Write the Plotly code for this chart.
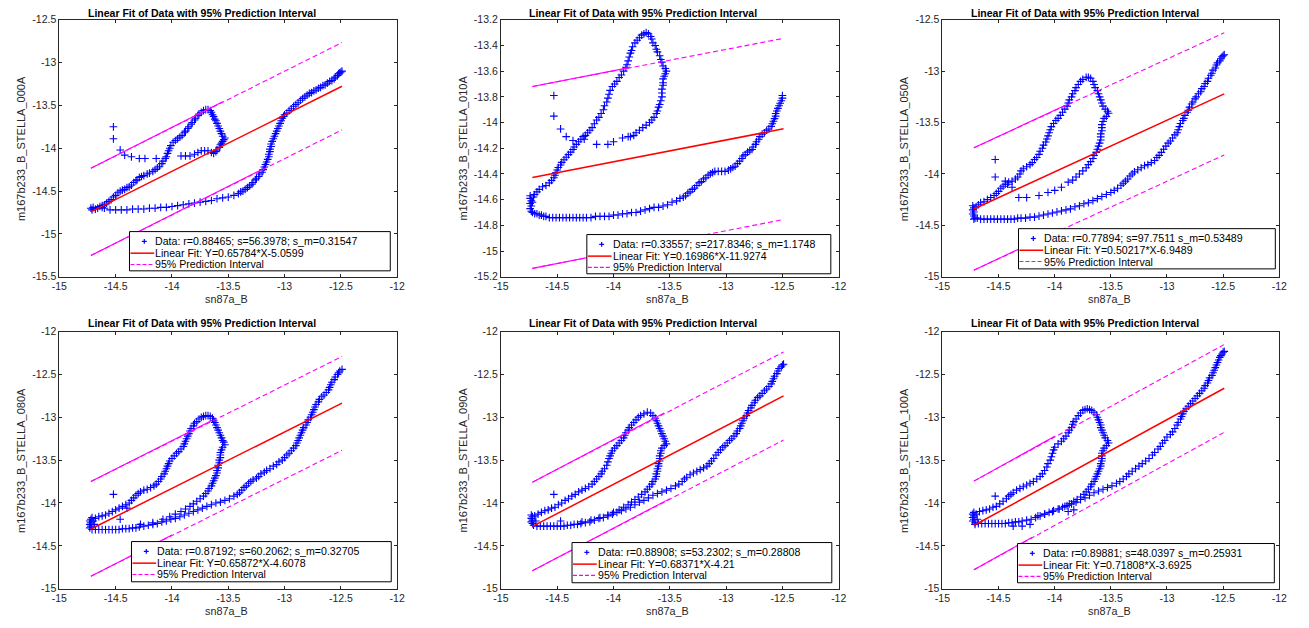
import plotly.graph_objects as go

FIG_W, FIG_H = 1309, 628
FONT = "Liberation Sans, Arial, Helvetica, sans-serif"

# ---------------- tick labels ----------------
x_tick_vals = [-15, -14.5, -14, -13.5, -13, -12.5, -12]
x_tick_text = ["-15", "-14.5", "-14", "-13.5", "-13", "-12.5", "-12"]
y_vals_000 = [-15.5, -15, -14.5, -14, -13.5, -13, -12.5]
y_text_000 = ["-15.5", "-15", "-14.5", "-14", "-13.5", "-13", "-12.5"]
y_vals_010 = [-15.2, -15, -14.8, -14.6, -14.4, -14.2, -14, -13.8, -13.6, -13.4, -13.2]
y_text_010 = ["-15.2", "-15", "-14.8", "-14.6", "-14.4", "-14.2", "-14", "-13.8", "-13.6", "-13.4", "-13.2"]
y_vals_050 = [-15, -14.5, -14, -13.5, -13, -12.5]
y_text_050 = ["-15", "-14.5", "-14", "-13.5", "-13", "-12.5"]
y_vals_080 = [-15, -14.5, -14, -13.5, -13, -12.5, -12]
y_text_080 = ["-15", "-14.5", "-14", "-13.5", "-13", "-12.5", "-12"]

# ---------------- data points (sn87a_B, m167b233_B_STELLA_xxxA) ----------------
pts_000 = [(-14.72,-14.70),(-14.71,-14.72),(-14.70,-14.69),(-14.68,-14.71),(-14.66,-14.70),(-14.64,-14.68),(-14.62,-14.69),(-14.60,-14.70),
    (-14.55,-14.72),(-14.50,-14.72),(-14.45,-14.72),(-14.40,-14.72),(-14.35,-14.71),(-14.30,-14.71),(-14.25,-14.71),(-14.20,-14.70),
    (-14.15,-14.70),(-14.10,-14.69),(-14.05,-14.69),(-14.00,-14.68),(-13.95,-14.67),(-13.90,-14.66),(-13.85,-14.65),(-13.80,-14.64),
    (-13.75,-14.63),(-13.70,-14.62),(-13.65,-14.61),(-13.60,-14.59),(-13.55,-14.58),(-13.50,-14.57),(-13.45,-14.55),
    (-13.41,-14.53),(-13.39,-14.51),(-13.37,-14.50),(-13.35,-14.48),(-13.33,-14.46),(-13.31,-14.44),(-13.29,-14.42),(-13.28,-14.40),
    (-13.26,-14.37),(-13.25,-14.35),(-13.23,-14.33),(-13.22,-14.30),(-13.20,-14.28),(-13.19,-14.25),(-13.18,-14.22),(-13.17,-14.19),
    (-13.16,-14.16),(-13.15,-14.13),(-13.14,-14.10),(-13.14,-14.07),(-13.13,-14.04),(-13.13,-14.01),(-13.12,-13.98),(-13.12,-13.95),
    (-13.11,-13.92),(-13.10,-13.89),(-13.09,-13.86),(-13.08,-13.83),(-13.07,-13.80),(-13.06,-13.77),(-13.05,-13.74),(-13.04,-13.71),
    (-13.03,-13.68),(-13.02,-13.65),(-13.01,-13.63),(-13.00,-13.61),(-12.98,-13.59),(-12.96,-13.56),(-12.94,-13.54),(-12.92,-13.51),
    (-12.90,-13.49),(-12.88,-13.47),(-12.86,-13.44),(-12.84,-13.42),(-12.82,-13.40),(-12.80,-13.38),(-12.78,-13.36),(-12.76,-13.35),
    (-12.74,-13.33),(-12.72,-13.32),(-12.70,-13.30),(-12.68,-13.29),(-12.66,-13.27),(-12.64,-13.26),(-12.62,-13.24),(-12.60,-13.22),
    (-12.58,-13.21),(-12.56,-13.19),(-12.55,-13.17),(-12.53,-13.15),(-12.52,-13.13),(-12.51,-13.12),(-12.50,-13.11),(-12.49,-13.10),
    (-14.62,-14.67),(-14.60,-14.66),(-14.58,-14.64),(-14.56,-14.62),(-14.54,-14.60),(-14.52,-14.57),(-14.50,-14.55),(-14.48,-14.52),
    (-14.46,-14.50),(-14.44,-14.49),(-14.42,-14.48),(-14.40,-14.46),(-14.38,-14.45),(-14.36,-14.43),(-14.34,-14.40),(-14.32,-14.38),
    (-14.31,-14.37),(-14.29,-14.34),(-14.27,-14.33),(-14.25,-14.32),(-14.22,-14.30),(-14.20,-14.29),(-14.17,-14.27),(-14.15,-14.25),
    (-14.13,-14.23),(-14.11,-14.21),(-14.09,-14.18),(-14.08,-14.15),(-14.06,-14.12),(-14.05,-14.10),(-14.04,-14.06),(-14.03,-14.03),
    (-14.02,-14.00),(-14.01,-13.97),(-13.99,-13.93),(-13.97,-13.91),(-13.95,-13.89),(-13.93,-13.87),(-13.91,-13.85),(-13.89,-13.82),
    (-13.88,-13.80),(-13.86,-13.77),(-13.85,-13.75),(-13.83,-13.72),(-13.82,-13.70),(-13.80,-13.67),(-13.79,-13.65),(-13.77,-13.62),
    (-13.76,-13.60),(-13.74,-13.58),(-13.72,-13.56),(-13.70,-13.55),(-13.68,-13.55),(-13.66,-13.56),(-13.65,-13.58),(-13.64,-13.61),
    (-13.63,-13.63),(-13.62,-13.66),(-13.61,-13.68),(-13.60,-13.71),(-13.59,-13.74),(-13.58,-13.77),(-13.57,-13.80),(-13.56,-13.83),
    (-13.55,-13.86),(-13.53,-13.88),(-13.54,-13.90),(-13.55,-13.92),(-13.56,-13.94),(-13.57,-13.96),(-13.58,-13.99),(-13.60,-14.02),
    (-13.61,-14.04),(-13.63,-14.06),(-13.65,-14.05),(-13.68,-14.03),(-13.71,-14.03),(-13.74,-14.03),(-13.77,-14.05),(-13.80,-14.07),
    (-13.84,-14.09),(-13.88,-14.09),(-13.92,-14.09),(-14.14,-14.12),(-14.24,-14.12),(-14.29,-14.12),(-14.36,-14.10),(-14.42,-14.08),
    (-14.46,-14.02),(-14.52,-13.89),(-14.52,-13.75)]

pts_010 = [(-14.74,-14.57),(-14.74,-14.59),(-14.73,-14.61),(-14.74,-14.63),(-14.73,-14.65),(-14.74,-14.67),(-14.73,-14.69),(-14.72,-14.70),
    (-14.72,-14.62),(-14.71,-14.58),
    (-14.70,-14.71),(-14.68,-14.71),(-14.66,-14.72),(-14.64,-14.72),(-14.62,-14.73),(-14.60,-14.73),(-14.57,-14.74),(-14.54,-14.74),
    (-14.51,-14.74),(-14.48,-14.74),(-14.45,-14.74),(-14.42,-14.74),(-14.39,-14.74),(-14.36,-14.74),(-14.33,-14.74),(-14.30,-14.74),
    (-14.27,-14.74),(-14.24,-14.74),(-14.20,-14.74),(-14.16,-14.73),(-14.12,-14.73),(-14.08,-14.73),(-14.04,-14.73),(-14.00,-14.72),
    (-13.96,-14.72),(-13.92,-14.71),(-13.88,-14.71),(-13.84,-14.70),(-13.80,-14.70),(-13.76,-14.69),(-13.72,-14.68),(-13.68,-14.67),
    (-13.64,-14.66),(-13.60,-14.66),(-13.56,-14.65),(-13.52,-14.64),(-13.48,-14.62),(-13.44,-14.61),(-13.41,-14.59),(-13.38,-14.58),
    (-13.36,-14.57),(-13.34,-14.55),(-13.32,-14.54),(-13.30,-14.52),(-13.28,-14.51),(-13.26,-14.49),(-13.24,-14.47),(-13.22,-14.46),
    (-13.20,-14.44),(-13.18,-14.43),(-13.16,-14.41),(-13.14,-14.40),(-13.12,-14.39),(-13.10,-14.38),(-13.07,-14.38),(-13.04,-14.38),
    (-13.01,-14.38),(-12.98,-14.37),(-12.96,-14.36),(-12.94,-14.35),(-12.92,-14.34),(-12.90,-14.32),(-12.88,-14.30),(-12.86,-14.28),
    (-12.85,-14.26),(-12.83,-14.25),(-12.81,-14.23),(-12.79,-14.22),(-12.77,-14.21),(-12.76,-14.19),(-12.74,-14.17),(-12.73,-14.15),
    (-12.71,-14.13),(-12.70,-14.11),(-12.68,-14.09),(-12.66,-14.08),(-12.64,-14.06),(-12.62,-14.05),(-12.60,-14.03),(-12.59,-14.01),
    (-12.58,-13.99),(-12.57,-13.97),(-12.56,-13.95),(-12.56,-13.93),(-12.55,-13.91),(-12.54,-13.89),(-12.53,-13.87),(-12.52,-13.85),
    (-12.51,-13.83),(-12.50,-13.81),(-12.50,-13.79),
    (-14.70,-14.56),(-14.68,-14.54),(-14.66,-14.52),(-14.63,-14.50),(-14.60,-14.49),(-14.57,-14.47),(-14.55,-14.45),(-14.53,-14.43),
    (-14.52,-14.41),(-14.51,-14.39),(-14.50,-14.37),(-14.49,-14.35),(-14.47,-14.33),(-14.46,-14.31),(-14.44,-14.29),(-14.42,-14.27),
    (-14.40,-14.25),(-14.38,-14.23),(-14.36,-14.21),(-14.35,-14.19),(-14.33,-14.17),(-14.31,-14.15),(-14.29,-14.13),(-14.27,-14.11),
    (-14.25,-14.10),(-14.23,-14.08),(-14.21,-14.06),(-14.19,-14.04),(-14.17,-14.01),(-14.15,-13.98),(-14.13,-13.96),(-14.11,-13.93),
    (-14.09,-13.90),(-14.08,-13.87),(-14.06,-13.84),(-14.05,-13.81),(-14.04,-13.78),(-14.03,-13.75),(-14.01,-13.72),(-13.99,-13.70),
    (-13.97,-13.68),(-13.95,-13.65),(-13.93,-13.63),(-13.91,-13.60),(-13.89,-13.57),(-13.88,-13.55),(-13.87,-13.52),(-13.86,-13.49),
    (-13.85,-13.46),(-13.84,-13.44),(-13.83,-13.41),(-13.81,-13.38),(-13.79,-13.36),(-13.77,-13.34),(-13.75,-13.32),(-13.73,-13.31),
    (-13.71,-13.30),(-13.69,-13.31),(-13.67,-13.33),(-13.66,-13.35),(-13.65,-13.38),(-13.63,-13.40),(-13.62,-13.43),(-13.61,-13.45),
    (-13.59,-13.48),(-13.58,-13.51),(-13.57,-13.53),(-13.56,-13.56),(-13.54,-13.58),(-13.53,-13.60),(-13.54,-13.62),(-13.55,-13.64),
    (-13.56,-13.66),(-13.56,-13.69),(-13.56,-13.71),(-13.57,-13.74),(-13.57,-13.77),(-13.57,-13.80),(-13.58,-13.83),(-13.59,-13.86),
    (-13.60,-13.88),(-13.61,-13.91),(-13.62,-13.93),(-13.64,-13.96),(-13.66,-13.98),(-13.68,-14.00),(-13.71,-14.02),(-13.74,-14.04),
    (-13.77,-14.06),(-13.80,-14.08),(-13.82,-14.10),(-13.85,-14.11),(-13.87,-14.11),(-13.92,-14.12),(-14.00,-14.15),(-14.05,-14.17),
    (-14.15,-14.17),(-14.26,-14.13),(-14.36,-14.14),(-14.42,-14.11),(-14.47,-14.05),(-14.53,-13.95),(-14.53,-13.79)]

pts_050 = [(-14.73,-14.31),(-14.72,-14.33),(-14.73,-14.35),(-14.72,-14.37),(-14.73,-14.39),(-14.72,-14.41),(-14.71,-14.43),(-14.70,-14.32),
    (-14.72,-14.44),
    (-14.69,-14.43),(-14.66,-14.44),(-14.63,-14.44),(-14.60,-14.44),(-14.57,-14.44),(-14.54,-14.44),(-14.51,-14.44),(-14.48,-14.44),
    (-14.45,-14.44),(-14.42,-14.44),(-14.39,-14.44),(-14.36,-14.44),(-14.33,-14.43),(-14.30,-14.43),(-14.26,-14.43),(-14.22,-14.42),
    (-14.18,-14.42),(-14.14,-14.41),(-14.10,-14.40),(-14.06,-14.39),(-14.02,-14.38),(-13.98,-14.37),(-13.94,-14.36),(-13.90,-14.35),
    (-13.86,-14.34),(-13.82,-14.32),(-13.78,-14.31),(-13.74,-14.29),(-13.70,-14.28),(-13.66,-14.26),(-13.62,-14.24),(-13.58,-14.22),
    (-13.54,-14.20),(-13.50,-14.18),(-13.47,-14.16),(-13.44,-14.14),(-13.41,-14.11),(-13.39,-14.09),(-13.37,-14.07),(-13.35,-14.05),
    (-13.33,-14.02),(-13.31,-14.00),(-13.29,-13.98),(-13.26,-13.96),(-13.23,-13.94),(-13.20,-13.92),(-13.17,-13.91),(-13.14,-13.89),
    (-13.11,-13.87),(-13.09,-13.84),(-13.07,-13.82),(-13.05,-13.79),(-13.03,-13.76),(-13.01,-13.73),(-12.99,-13.70),(-12.97,-13.68),
    (-12.95,-13.65),(-12.93,-13.62),(-12.91,-13.60),(-12.90,-13.57),(-12.89,-13.54),(-12.88,-13.51),(-12.86,-13.48),(-12.85,-13.46),
    (-12.84,-13.43),(-12.82,-13.40),(-12.81,-13.38),(-12.80,-13.35),(-12.78,-13.32),(-12.77,-13.30),(-12.75,-13.27),(-12.74,-13.25),
    (-12.72,-13.22),(-12.70,-13.20),(-12.69,-13.17),(-12.67,-13.15),(-12.66,-13.12),(-12.64,-13.10),(-12.63,-13.07),(-12.61,-13.04),
    (-12.60,-13.02),(-12.59,-12.99),(-12.57,-12.97),(-12.56,-12.94),(-12.55,-12.92),(-12.53,-12.90),(-12.52,-12.88),(-12.51,-12.86),
    (-12.50,-12.85),(-12.49,-12.84),
    (-14.68,-14.30),(-14.66,-14.28),(-14.63,-14.27),(-14.60,-14.25),(-14.57,-14.23),(-14.54,-14.21),(-14.52,-14.19),(-14.50,-14.17),
    (-14.48,-14.14),(-14.46,-14.12),(-14.44,-14.10),(-14.41,-14.08),(-14.38,-14.07),(-14.35,-14.05),(-14.33,-14.03),(-14.31,-14.00),
    (-14.30,-13.97),(-14.28,-13.95),(-14.25,-13.93),(-14.22,-13.91),(-14.20,-13.89),(-14.18,-13.86),(-14.16,-13.84),(-14.14,-13.81),
    (-14.13,-13.78),(-14.11,-13.75),(-14.10,-13.72),(-14.08,-13.69),(-14.07,-13.66),(-14.06,-13.63),(-14.05,-13.60),(-14.04,-13.57),
    (-14.03,-13.54),(-14.01,-13.51),(-13.99,-13.48),(-13.97,-13.46),(-13.95,-13.43),(-13.93,-13.40),(-13.91,-13.37),(-13.89,-13.34),
    (-13.88,-13.31),(-13.87,-13.28),(-13.85,-13.25),(-13.84,-13.22),(-13.82,-13.19),(-13.81,-13.16),(-13.79,-13.13),(-13.77,-13.10),
    (-13.75,-13.08),(-13.72,-13.06),(-13.70,-13.06),(-13.68,-13.07),(-13.66,-13.10),(-13.65,-13.13),(-13.64,-13.16),(-13.62,-13.19),
    (-13.61,-13.22),(-13.60,-13.25),(-13.59,-13.28),(-13.58,-13.31),(-13.57,-13.34),(-13.55,-13.37),(-13.53,-13.39),(-13.52,-13.41),
    (-13.54,-13.44),(-13.56,-13.46),(-13.57,-13.49),(-13.58,-13.52),(-13.58,-13.55),(-13.58,-13.58),(-13.59,-13.61),(-13.59,-13.64),
    (-13.59,-13.67),(-13.60,-13.70),(-13.61,-13.73),(-13.62,-13.76),(-13.63,-13.79),(-13.65,-13.82),(-13.66,-13.85),(-13.68,-13.88),
    (-13.70,-13.91),(-13.72,-13.94),(-13.75,-13.97),(-13.78,-14.00),(-13.81,-14.03),(-13.84,-14.06),(-13.88,-14.08),(-13.94,-14.13),
    (-14.00,-14.16),(-14.06,-14.18),(-14.14,-14.21),(-14.25,-14.23),(-14.32,-14.23),(-14.38,-14.13),(-14.42,-14.10),(-14.44,-14.07),
    (-14.53,-14.03),(-14.53,-13.86)]

pts_080 = [(-14.72,-14.19),(-14.73,-14.21),(-14.72,-14.23),(-14.73,-14.25),(-14.72,-14.27),(-14.73,-14.29),(-14.71,-14.31),(-14.70,-14.21),
    (-14.69,-14.25),(-14.71,-14.17),
    (-14.68,-14.31),(-14.65,-14.31),(-14.62,-14.31),(-14.59,-14.31),(-14.56,-14.31),(-14.53,-14.31),(-14.50,-14.31),(-14.47,-14.31),
    (-14.44,-14.30),(-14.41,-14.30),(-14.38,-14.30),(-14.35,-14.29),(-14.32,-14.29),(-14.29,-14.28),(-14.25,-14.27),(-14.21,-14.26),
    (-14.17,-14.25),(-14.13,-14.24),(-14.09,-14.22),(-14.05,-14.21),(-14.01,-14.19),(-13.97,-14.18),(-13.93,-14.16),(-13.89,-14.14),
    (-13.85,-14.12),(-13.81,-14.10),(-13.77,-14.08),(-13.73,-14.06),(-13.69,-14.04),(-13.65,-14.02),(-13.61,-14.00),(-13.57,-13.99),
    (-13.53,-13.97),(-13.49,-13.95),(-13.45,-13.92),(-13.42,-13.90),(-13.40,-13.88),(-13.38,-13.85),(-13.36,-13.82),(-13.34,-13.80),
    (-13.32,-13.77),(-13.30,-13.75),(-13.28,-13.73),(-13.25,-13.71),(-13.23,-13.69),(-13.21,-13.66),(-13.18,-13.64),(-13.16,-13.62),
    (-13.13,-13.60),(-13.10,-13.57),(-13.07,-13.55),(-13.05,-13.52),(-13.02,-13.50),(-13.00,-13.47),(-12.98,-13.44),(-12.96,-13.42),
    (-12.94,-13.39),(-12.92,-13.36),(-12.90,-13.33),(-12.89,-13.30),(-12.88,-13.27),(-12.87,-13.24),(-12.86,-13.21),(-12.85,-13.18),
    (-12.84,-13.15),(-12.83,-13.12),(-12.81,-13.09),(-12.80,-13.06),(-12.79,-13.03),(-12.77,-13.00),(-12.76,-12.97),(-12.75,-12.94),
    (-12.74,-12.91),(-12.73,-12.88),(-12.72,-12.85),(-12.70,-12.82),(-12.69,-12.79),(-12.67,-12.76),(-12.65,-12.74),(-12.63,-12.71),
    (-12.61,-12.68),(-12.60,-12.65),(-12.59,-12.62),(-12.58,-12.59),(-12.56,-12.56),(-12.55,-12.53),(-12.53,-12.50),(-12.52,-12.48),
    (-12.51,-12.46),(-12.49,-12.44),
    (-14.68,-14.18),(-14.65,-14.16),(-14.62,-14.15),(-14.59,-14.14),(-14.56,-14.12),(-14.53,-14.10),(-14.50,-14.08),(-14.47,-14.06),
    (-14.44,-14.04),(-14.41,-14.02),(-14.38,-14.00),(-14.36,-13.97),(-14.34,-13.94),(-14.32,-13.91),(-14.30,-13.89),(-14.28,-13.87),
    (-14.25,-13.85),(-14.22,-13.84),(-14.19,-13.82),(-14.16,-13.80),(-14.14,-13.78),(-14.12,-13.75),(-14.10,-13.72),(-14.09,-13.69),
    (-14.07,-13.66),(-14.06,-13.63),(-14.05,-13.60),(-14.04,-13.57),(-14.03,-13.54),(-14.02,-13.51),(-14.00,-13.48),(-13.98,-13.45),
    (-13.96,-13.42),(-13.94,-13.40),(-13.92,-13.37),(-13.90,-13.34),(-13.89,-13.31),(-13.88,-13.28),(-13.87,-13.25),(-13.86,-13.22),
    (-13.85,-13.19),(-13.84,-13.16),(-13.83,-13.13),(-13.81,-13.10),(-13.80,-13.07),(-13.78,-13.05),(-13.76,-13.02),(-13.74,-13.00),
    (-13.72,-12.99),(-13.70,-12.98),(-13.68,-12.98),(-13.66,-12.99),(-13.64,-13.01),(-13.63,-13.04),(-13.62,-13.06),(-13.61,-13.09),
    (-13.60,-13.12),(-13.59,-13.15),(-13.58,-13.18),(-13.57,-13.21),(-13.56,-13.24),(-13.55,-13.27),(-13.54,-13.29),(-13.53,-13.32),
    (-13.55,-13.35),(-13.56,-13.38),(-13.57,-13.41),(-13.57,-13.44),(-13.57,-13.47),(-13.58,-13.50),(-13.58,-13.53),(-13.59,-13.56),
    (-13.59,-13.59),(-13.60,-13.62),(-13.60,-13.65),(-13.61,-13.68),(-13.62,-13.71),(-13.63,-13.74),(-13.64,-13.77),(-13.65,-13.80),
    (-13.67,-13.83),(-13.68,-13.86),(-13.70,-13.89),(-13.72,-13.92),(-13.75,-13.95),(-13.78,-13.98),(-13.81,-14.01),(-13.84,-14.04),
    (-13.88,-14.07),(-13.92,-14.10),(-13.97,-14.13),(-14.02,-14.16),(-14.08,-14.19),(-14.17,-14.23),(-14.28,-14.25),(-14.40,-14.06),
    (-14.46,-14.19),(-14.52,-13.90)]

pts_090 = [(-14.73,-14.14),(-14.72,-14.16),(-14.73,-14.18),(-14.72,-14.20),(-14.73,-14.22),(-14.72,-14.24),(-14.71,-14.26),(-14.70,-14.15),
    (-14.69,-14.21),
    (-14.68,-14.27),(-14.65,-14.27),(-14.62,-14.27),(-14.59,-14.27),(-14.56,-14.27),(-14.53,-14.27),(-14.50,-14.27),(-14.47,-14.27),
    (-14.44,-14.27),(-14.41,-14.26),(-14.38,-14.26),(-14.35,-14.25),(-14.32,-14.25),(-14.29,-14.24),(-14.25,-14.23),(-14.21,-14.22),
    (-14.17,-14.20),(-14.13,-14.18),(-14.09,-14.17),(-14.05,-14.15),(-14.01,-14.13),(-13.97,-14.11),(-13.93,-14.09),(-13.89,-14.07),
    (-13.85,-14.05),(-13.81,-14.02),(-13.77,-13.99),(-13.73,-13.97),(-13.69,-13.94),(-13.65,-13.91),(-13.61,-13.89),(-13.57,-13.87),
    (-13.53,-13.85),(-13.49,-13.83),(-13.45,-13.80),(-13.42,-13.78),(-13.39,-13.75),(-13.37,-13.72),(-13.35,-13.70),(-13.32,-13.67),
    (-13.29,-13.65),(-13.26,-13.63),(-13.23,-13.61),(-13.20,-13.59),(-13.17,-13.57),(-13.15,-13.54),(-13.13,-13.51),(-13.11,-13.48),
    (-13.09,-13.44),(-13.07,-13.41),(-13.05,-13.38),(-13.03,-13.35),(-13.01,-13.33),(-12.99,-13.30),(-12.97,-13.27),(-12.95,-13.25),
    (-12.93,-13.22),(-12.91,-13.19),(-12.90,-13.16),(-12.88,-13.13),(-12.87,-13.10),(-12.86,-13.07),(-12.85,-13.04),(-12.84,-13.01),
    (-12.82,-12.98),(-12.81,-12.95),(-12.80,-12.92),(-12.78,-12.89),(-12.77,-12.86),(-12.75,-12.83),(-12.74,-12.80),(-12.72,-12.77),
    (-12.70,-12.75),(-12.68,-12.72),(-12.66,-12.69),(-12.64,-12.67),(-12.62,-12.64),(-12.60,-12.61),(-12.59,-12.58),(-12.58,-12.55),
    (-12.57,-12.52),(-12.55,-12.49),(-12.54,-12.46),(-12.53,-12.43),(-12.51,-12.41),(-12.50,-12.39),(-12.49,-12.38),
    (-14.67,-14.13),(-14.64,-14.11),(-14.61,-14.09),(-14.58,-14.08),(-14.55,-14.06),(-14.52,-14.05),(-14.49,-14.02),(-14.46,-14.00),
    (-14.43,-13.97),(-14.40,-13.95),(-14.37,-13.92),(-14.34,-13.90),(-14.31,-13.87),(-14.28,-13.85),(-14.25,-13.83),(-14.22,-13.81),
    (-14.19,-13.78),(-14.17,-13.75),(-14.15,-13.72),(-14.13,-13.69),(-14.11,-13.66),(-14.10,-13.63),(-14.08,-13.60),(-14.06,-13.56),
    (-14.05,-13.52),(-14.04,-13.48),(-14.03,-13.45),(-14.02,-13.42),(-14.01,-13.39),(-13.99,-13.36),(-13.97,-13.33),(-13.95,-13.30),
    (-13.93,-13.27),(-13.91,-13.24),(-13.90,-13.21),(-13.89,-13.18),(-13.87,-13.15),(-13.86,-13.12),(-13.84,-13.09),(-13.82,-13.06),
    (-13.80,-13.03),(-13.78,-13.00),(-13.76,-12.98),(-13.73,-12.96),(-13.70,-12.94),(-13.67,-12.95),(-13.65,-12.98),(-13.63,-13.01),
    (-13.62,-13.04),(-13.61,-13.07),(-13.60,-13.10),(-13.59,-13.13),(-13.58,-13.16),(-13.57,-13.19),(-13.56,-13.22),(-13.55,-13.25),
    (-13.54,-13.28),(-13.53,-13.31),(-13.55,-13.33),(-13.57,-13.36),(-13.58,-13.39),(-13.58,-13.42),(-13.59,-13.45),(-13.59,-13.48),
    (-13.59,-13.51),(-13.60,-13.54),(-13.60,-13.57),(-13.61,-13.60),(-13.61,-13.63),(-13.62,-13.66),(-13.62,-13.69),(-13.63,-13.72),
    (-13.65,-13.75),(-13.66,-13.78),(-13.68,-13.81),(-13.70,-13.84),(-13.72,-13.87),(-13.75,-13.90),(-13.78,-13.93),(-13.81,-13.96),
    (-13.84,-13.99),(-13.87,-14.02),(-13.91,-14.05),(-13.95,-14.08),(-14.00,-14.11),(-14.05,-14.14),(-14.12,-14.17),(-14.20,-14.20),
    (-14.28,-14.22),(-14.47,-14.21),(-14.53,-13.90)]

pts_100 = [(-14.72,-14.11),(-14.73,-14.13),(-14.72,-14.15),(-14.73,-14.17),(-14.72,-14.19),(-14.73,-14.21),(-14.71,-14.23),(-14.70,-14.13),
    (-14.69,-14.19),(-14.71,-14.25),
    (-14.68,-14.24),(-14.65,-14.24),(-14.62,-14.24),(-14.59,-14.24),(-14.56,-14.24),(-14.53,-14.24),(-14.50,-14.24),(-14.47,-14.24),
    (-14.44,-14.24),(-14.41,-14.23),(-14.38,-14.23),(-14.35,-14.22),(-14.32,-14.22),(-14.29,-14.21),(-14.25,-14.20),(-14.21,-14.19),
    (-14.17,-14.17),(-14.13,-14.15),(-14.09,-14.13),(-14.05,-14.11),(-14.01,-14.09),(-13.97,-14.07),(-13.93,-14.05),(-13.89,-14.03),
    (-13.85,-14.01),(-13.81,-13.99),(-13.77,-13.96),(-13.73,-13.94),(-13.69,-13.91),(-13.65,-13.88),(-13.61,-13.86),(-13.57,-13.84),
    (-13.53,-13.82),(-13.49,-13.80),(-13.45,-13.77),(-13.42,-13.75),(-13.39,-13.72),(-13.36,-13.69),(-13.34,-13.66),(-13.31,-13.63),
    (-13.28,-13.60),(-13.25,-13.57),(-13.22,-13.54),(-13.19,-13.51),(-13.16,-13.48),(-13.13,-13.44),(-13.11,-13.41),(-13.08,-13.37),
    (-13.06,-13.34),(-13.04,-13.30),(-13.02,-13.27),(-13.00,-13.23),(-12.97,-13.20),(-12.95,-13.17),(-12.93,-13.13),(-12.91,-13.09),
    (-12.90,-13.06),(-12.88,-13.02),(-12.87,-12.99),(-12.86,-12.96),(-12.85,-12.93),(-12.83,-12.90),(-12.81,-12.87),(-12.79,-12.84),
    (-12.77,-12.81),(-12.75,-12.78),(-12.73,-12.75),(-12.71,-12.72),(-12.69,-12.69),(-12.67,-12.66),(-12.66,-12.63),(-12.64,-12.60),
    (-12.63,-12.57),(-12.62,-12.54),(-12.60,-12.51),(-12.59,-12.48),(-12.58,-12.45),(-12.57,-12.42),(-12.56,-12.39),(-12.55,-12.36),
    (-12.54,-12.33),(-12.53,-12.30),(-12.52,-12.28),(-12.51,-12.26),(-12.50,-12.24),(-12.49,-12.23),
    (-14.67,-14.10),(-14.64,-14.09),(-14.61,-14.08),(-14.58,-14.07),(-14.55,-14.05),(-14.52,-14.04),(-14.49,-14.01),(-14.46,-13.98),
    (-14.43,-13.95),(-14.41,-13.92),(-14.39,-13.90),(-14.37,-13.88),(-14.34,-13.85),(-14.31,-13.83),(-14.28,-13.81),(-14.25,-13.79),
    (-14.22,-13.77),(-14.19,-13.75),(-14.16,-13.72),(-14.13,-13.69),(-14.11,-13.66),(-14.09,-13.62),(-14.07,-13.58),(-14.06,-13.54),
    (-14.04,-13.50),(-14.03,-13.46),(-14.02,-13.42),(-14.01,-13.38),(-14.00,-13.35),(-13.97,-13.31),(-13.94,-13.28),(-13.92,-13.25),
    (-13.90,-13.22),(-13.88,-13.18),(-13.87,-13.15),(-13.85,-13.12),(-13.84,-13.08),(-13.83,-13.05),(-13.81,-13.02),(-13.79,-12.98),
    (-13.77,-12.95),(-13.75,-12.92),(-13.73,-12.91),(-13.71,-12.90),(-13.69,-12.91),(-13.67,-12.92),(-13.65,-12.94),(-13.63,-12.97),
    (-13.62,-13.00),(-13.61,-13.03),(-13.60,-13.06),(-13.59,-13.09),(-13.59,-13.12),(-13.58,-13.15),(-13.57,-13.18),(-13.56,-13.21),
    (-13.55,-13.24),(-13.53,-13.27),(-13.52,-13.30),(-13.54,-13.33),(-13.56,-13.36),(-13.57,-13.39),(-13.58,-13.42),(-13.58,-13.45),
    (-13.58,-13.48),(-13.58,-13.51),(-13.59,-13.54),(-13.59,-13.57),(-13.60,-13.60),(-13.61,-13.63),(-13.62,-13.66),(-13.63,-13.69),
    (-13.64,-13.72),(-13.65,-13.75),(-13.67,-13.78),(-13.68,-13.81),(-13.70,-13.84),(-13.72,-13.87),(-13.74,-13.90),(-13.77,-13.93),
    (-13.80,-13.96),(-13.83,-13.98),(-13.87,-14.01),(-13.91,-14.04),(-13.96,-14.07),(-14.02,-14.10),(-14.09,-14.13),(-14.15,-14.15),
    (-13.88,-14.10),(-13.83,-14.08),(-14.22,-14.25),(-14.29,-14.27),(-14.37,-14.27),(-14.53,-13.92)]

# ---------------- fit lines and 95% prediction intervals (end points) ----------------
fit_x = [-14.72, -12.49]
fit_y_000 = [-14.743, -13.276]; pi_up_000 = [-14.233, -12.766]; pi_lo_000 = [-15.253, -13.786]
fit_y_010 = [-14.428, -14.049]; pi_up_010 = [-13.720, -13.345]; pi_lo_010 = [-15.135, -14.755]
fit_y_050 = [-14.341, -13.221]; pi_up_050 = [-13.746, -12.627]; pi_lo_050 = [-14.936, -13.815]
fit_y_080 = [-14.304, -12.835]; pi_up_080 = [-13.750, -12.290]; pi_lo_080 = [-14.855, -13.385]
fit_y_090 = [-14.274, -12.750]; pi_up_090 = [-13.757, -12.237]; pi_lo_090 = [-14.790, -13.265]
fit_y_100 = [-14.263, -12.661]; pi_up_100 = [-13.745, -12.150]; pi_lo_100 = [-14.780, -13.175]

# portions of the interval lines that look solid (dense overlapping dashes)
solid_up_x_000 = [-14.72, -13.55]; solid_up_y_000 = [-14.233, -13.457]
solid_lo_x_000 = [-14.72, -13.20]; solid_lo_y_000 = [-15.253, -14.247]
solid_up_x_010 = [-14.72, -13.85]; solid_up_y_010 = [-13.720, -13.571]
solid_lo_x_010 = [-14.72, -14.00]; solid_lo_y_010 = [-15.135, -15.011]
solid_up_x_050 = [-14.72, -13.90]; solid_up_y_050 = [-13.746, -13.329]
solid_lo_x_050 = [-14.72, -14.20]; solid_lo_y_050 = [-14.936, -14.670]
solid_up_x_080 = [-14.72, -13.65]; solid_up_y_080 = [-13.750, -13.039]
solid_lo_x_080 = [-14.72, -14.00]; solid_lo_y_080 = [-14.855, -14.374]
solid_up_x_090 = [-14.72, -13.55]; solid_up_y_090 = [-13.757, -12.950]
solid_lo_x_090 = [-14.72, -13.50]; solid_lo_y_090 = [-14.790, -13.949]
solid_up_x_100 = [-14.72, -14.00]; solid_up_y_100 = [-13.745, -13.221]
solid_lo_x_100 = [-14.72, -14.20]; solid_lo_y_100 = [-14.780, -14.399]

data_labels = [
    "Data: r=0.88465; s=56.3978; s_m=0.31547",
    "Data: r=0.33557; s=217.8346; s_m=1.1748",
    "Data: r=0.77894; s=97.7511 s_m=0.53489",
    "Data: r=0.87192; s=60.2062; s_m=0.32705",
    "Data: r=0.88908; s=53.2302; s_m=0.28808",
    "Data: r=0.89881; s=48.0397 s_m=0.25931",
]
fit_labels = [
    "Linear Fit: Y=0.65784*X-5.0599",
    "Linear Fit: Y=0.16986*X-11.9274",
    "Linear Fit: Y=0.50217*X-6.9489",
    "Linear Fit: Y=0.65872*X-4.6078",
    "Linear Fit: Y=0.68371*X-4.21",
    "Linear Fit: Y=0.71808*X-3.6925",
]
y_labels = ["m167b233_B_STELLA_000A", "m167b233_B_STELLA_010A", "m167b233_B_STELLA_050A",
            "m167b233_B_STELLA_080A", "m167b233_B_STELLA_090A", "m167b233_B_STELLA_100A"]
x_label = "sn87a_B"
title_text = "Linear Fit of Data with 95% Prediction Interval"
pi_label = "95% Prediction Interval"

panels = [
    dict(pts=pts_000, fit=fit_y_000, up=pi_up_000, lo=pi_lo_000, su=(solid_up_x_000, solid_up_y_000), sl=(solid_lo_x_000, solid_lo_y_000),
         yr=[-15.5, -12.5], yv=y_vals_000, yt=y_text_000),
    dict(pts=pts_010, fit=fit_y_010, up=pi_up_010, lo=pi_lo_010, su=(solid_up_x_010, solid_up_y_010), sl=(solid_lo_x_010, solid_lo_y_010),
         yr=[-15.2, -13.2], yv=y_vals_010, yt=y_text_010),
    dict(pts=pts_050, fit=fit_y_050, up=pi_up_050, lo=pi_lo_050, su=(solid_up_x_050, solid_up_y_050), sl=(solid_lo_x_050, solid_lo_y_050),
         yr=[-15, -12.5], yv=y_vals_050, yt=y_text_050),
    dict(pts=pts_080, fit=fit_y_080, up=pi_up_080, lo=pi_lo_080, su=(solid_up_x_080, solid_up_y_080), sl=(solid_lo_x_080, solid_lo_y_080),
         yr=[-15, -12], yv=y_vals_080, yt=y_text_080),
    dict(pts=pts_090, fit=fit_y_090, up=pi_up_090, lo=pi_lo_090, su=(solid_up_x_090, solid_up_y_090), sl=(solid_lo_x_090, solid_lo_y_090),
         yr=[-15, -12], yv=y_vals_080, yt=y_text_080),
    dict(pts=pts_100, fit=fit_y_100, up=pi_up_100, lo=pi_lo_100, su=(solid_up_x_100, solid_up_y_100), sl=(solid_lo_x_100, solid_lo_y_100),
         yr=[-15, -12], yv=y_vals_080, yt=y_text_080),
]

# ---------------- layout geometry (pixels) ----------------
col_l = [52, 499, 946]
col_r = [394, 841, 1287]
row_t = [14, 332]
row_b = [276, 594]
title_cx = [196, 643, 1090]
title_cy = [7, 323]
xlab_cx = [221, 668, 1115]
xlab_cy = [299, 617]
ylab_cx = [13, 461, 907]
# legend boxes (left, top, right, bottom) in pixels
leg_box = [(123, 230, 387, 270), (586, 233, 833, 273), (1023, 227, 1283, 268),
           (125, 546, 388, 587), (571, 547, 834, 588), (1022, 548, 1282, 588)]
leg_row_dy = [10, 22, 33.5]

def px(x):
    return x / FIG_W

def py(y):
    return 1 - y / FIG_H

AX_COL = "#262626"
BLUE, RED, MAGENTA = "#0000FF", "#FF0000", "#FF00FF"
fig = go.Figure()
layout = dict(width=FIG_W, height=FIG_H, margin=dict(l=0, r=0, t=0, b=0), showlegend=False,
              paper_bgcolor="white", plot_bgcolor="white",
              font=dict(family=FONT, size=10.5, color=AX_COL), annotations=[], shapes=[])

def pline(x0, y0, x1, y1, color, width=1.0, dash="solid"):
    return dict(type="line", xref="paper", yref="paper", x0=px(x0), y0=py(y0), x1=px(x1), y1=py(y1),
                line=dict(color=color, width=width, dash=dash), layer="above")

for i, p in enumerate(panels):
    r, c = divmod(i, 3)
    n = i + 1
    xa = "x" if n == 1 else f"x{n}"
    ya = "y" if n == 1 else f"y{n}"
    xs = [q[0] for q in p["pts"]]
    ys = [q[1] for q in p["pts"]]
    fig.add_trace(go.Scatter(x=xs, y=ys, mode="markers", name=data_labels[i], xaxis=xa, yaxis=ya,
                             marker=dict(symbol="cross-thin", size=5.5, color=BLUE,
                                         line=dict(width=1.1, color=BLUE))))
    fig.add_trace(go.Scatter(x=fit_x, y=p["fit"], mode="lines", name=fit_labels[i], xaxis=xa, yaxis=ya,
                             line=dict(color=RED, width=1.5)))
    for yy in (p["up"], p["lo"]):
        fig.add_trace(go.Scatter(x=fit_x, y=yy, mode="lines", name=pi_label, xaxis=xa, yaxis=ya,
                                 line=dict(color=MAGENTA, width=1.1, dash="5px,3px")))
    for sx, sy in (p["su"], p["sl"]):
        fig.add_trace(go.Scatter(x=sx, y=sy, mode="lines", name=pi_label, xaxis=xa, yaxis=ya, hoverinfo="skip",
                                 line=dict(color=MAGENTA, width=1.1)))

    axis_common = dict(showline=True, linecolor=AX_COL, linewidth=1, mirror="allticks", ticks="inside",
                       ticklen=3, tickcolor=AX_COL, tickwidth=1, showgrid=False, zeroline=False,
                       tickfont=dict(family=FONT, size=10.5, color=AX_COL))
    layout["xaxis" if n == 1 else f"xaxis{n}"] = dict(
        axis_common, domain=[px(col_l[c]), px(col_r[c])], range=[-15, -12], anchor=ya,
        tickmode="array", tickvals=x_tick_vals, ticktext=x_tick_text)
    layout["yaxis" if n == 1 else f"yaxis{n}"] = dict(
        axis_common, domain=[py(row_b[r]), py(row_t[r])], range=p["yr"], anchor=xa,
        tickmode="array", tickvals=p["yv"], ticktext=p["yt"])

    # ---- legend box (drawn on top of the data) ----
    L, T, R, B = leg_box[i]
    layout["shapes"].append(dict(type="rect", xref="paper", yref="paper", x0=px(L), x1=px(R), y0=py(B), y1=py(T),
                                 line=dict(color="#000000", width=1), fillcolor="white", layer="above"))
    ry = [T + d for d in leg_row_dy]
    mx = L + 15
    layout["shapes"] += [
        pline(mx - 2.5, ry[0], mx + 2.5, ry[0], BLUE, 1.2),
        pline(mx, ry[0] - 2.5, mx, ry[0] + 2.5, BLUE, 1.2),
        pline(L + 1, ry[1], L + 25, ry[1], RED, 1.5),
        pline(L + 1, ry[2], L + 25, ry[2], MAGENTA, 1.1, "4px,2px"),
    ]
    for k, txt in enumerate([data_labels[i], fit_labels[i], pi_label]):
        layout["annotations"].append(dict(text=txt, x=px(L + 24), y=py(ry[k]), xref="paper", yref="paper",
                                          showarrow=False, xanchor="left", yanchor="middle",
                                          font=dict(family=FONT, size=10.6, color="#000000")))

    layout["annotations"] += [
        dict(text=f"<b>{title_text}</b>", x=px(title_cx[c]), y=py(title_cy[r]), xref="paper", yref="paper",
             showarrow=False, xanchor="center", yanchor="middle", font=dict(family=FONT, size=10.5, color="#000000")),
        dict(text=x_label, x=px(xlab_cx[c]), y=py(xlab_cy[r]), xref="paper", yref="paper",
             showarrow=False, xanchor="center", yanchor="middle", font=dict(family=FONT, size=10.8, color=AX_COL)),
        dict(text=y_labels[i], x=px(ylab_cx[c]), y=py((row_t[r] + row_b[r]) / 2), xref="paper", yref="paper",
             showarrow=False, xanchor="center", yanchor="middle", textangle=-90,
             font=dict(family=FONT, size=11, color=AX_COL)),
    ]

fig.update_layout(**layout)
fig.write_html("out.html")
